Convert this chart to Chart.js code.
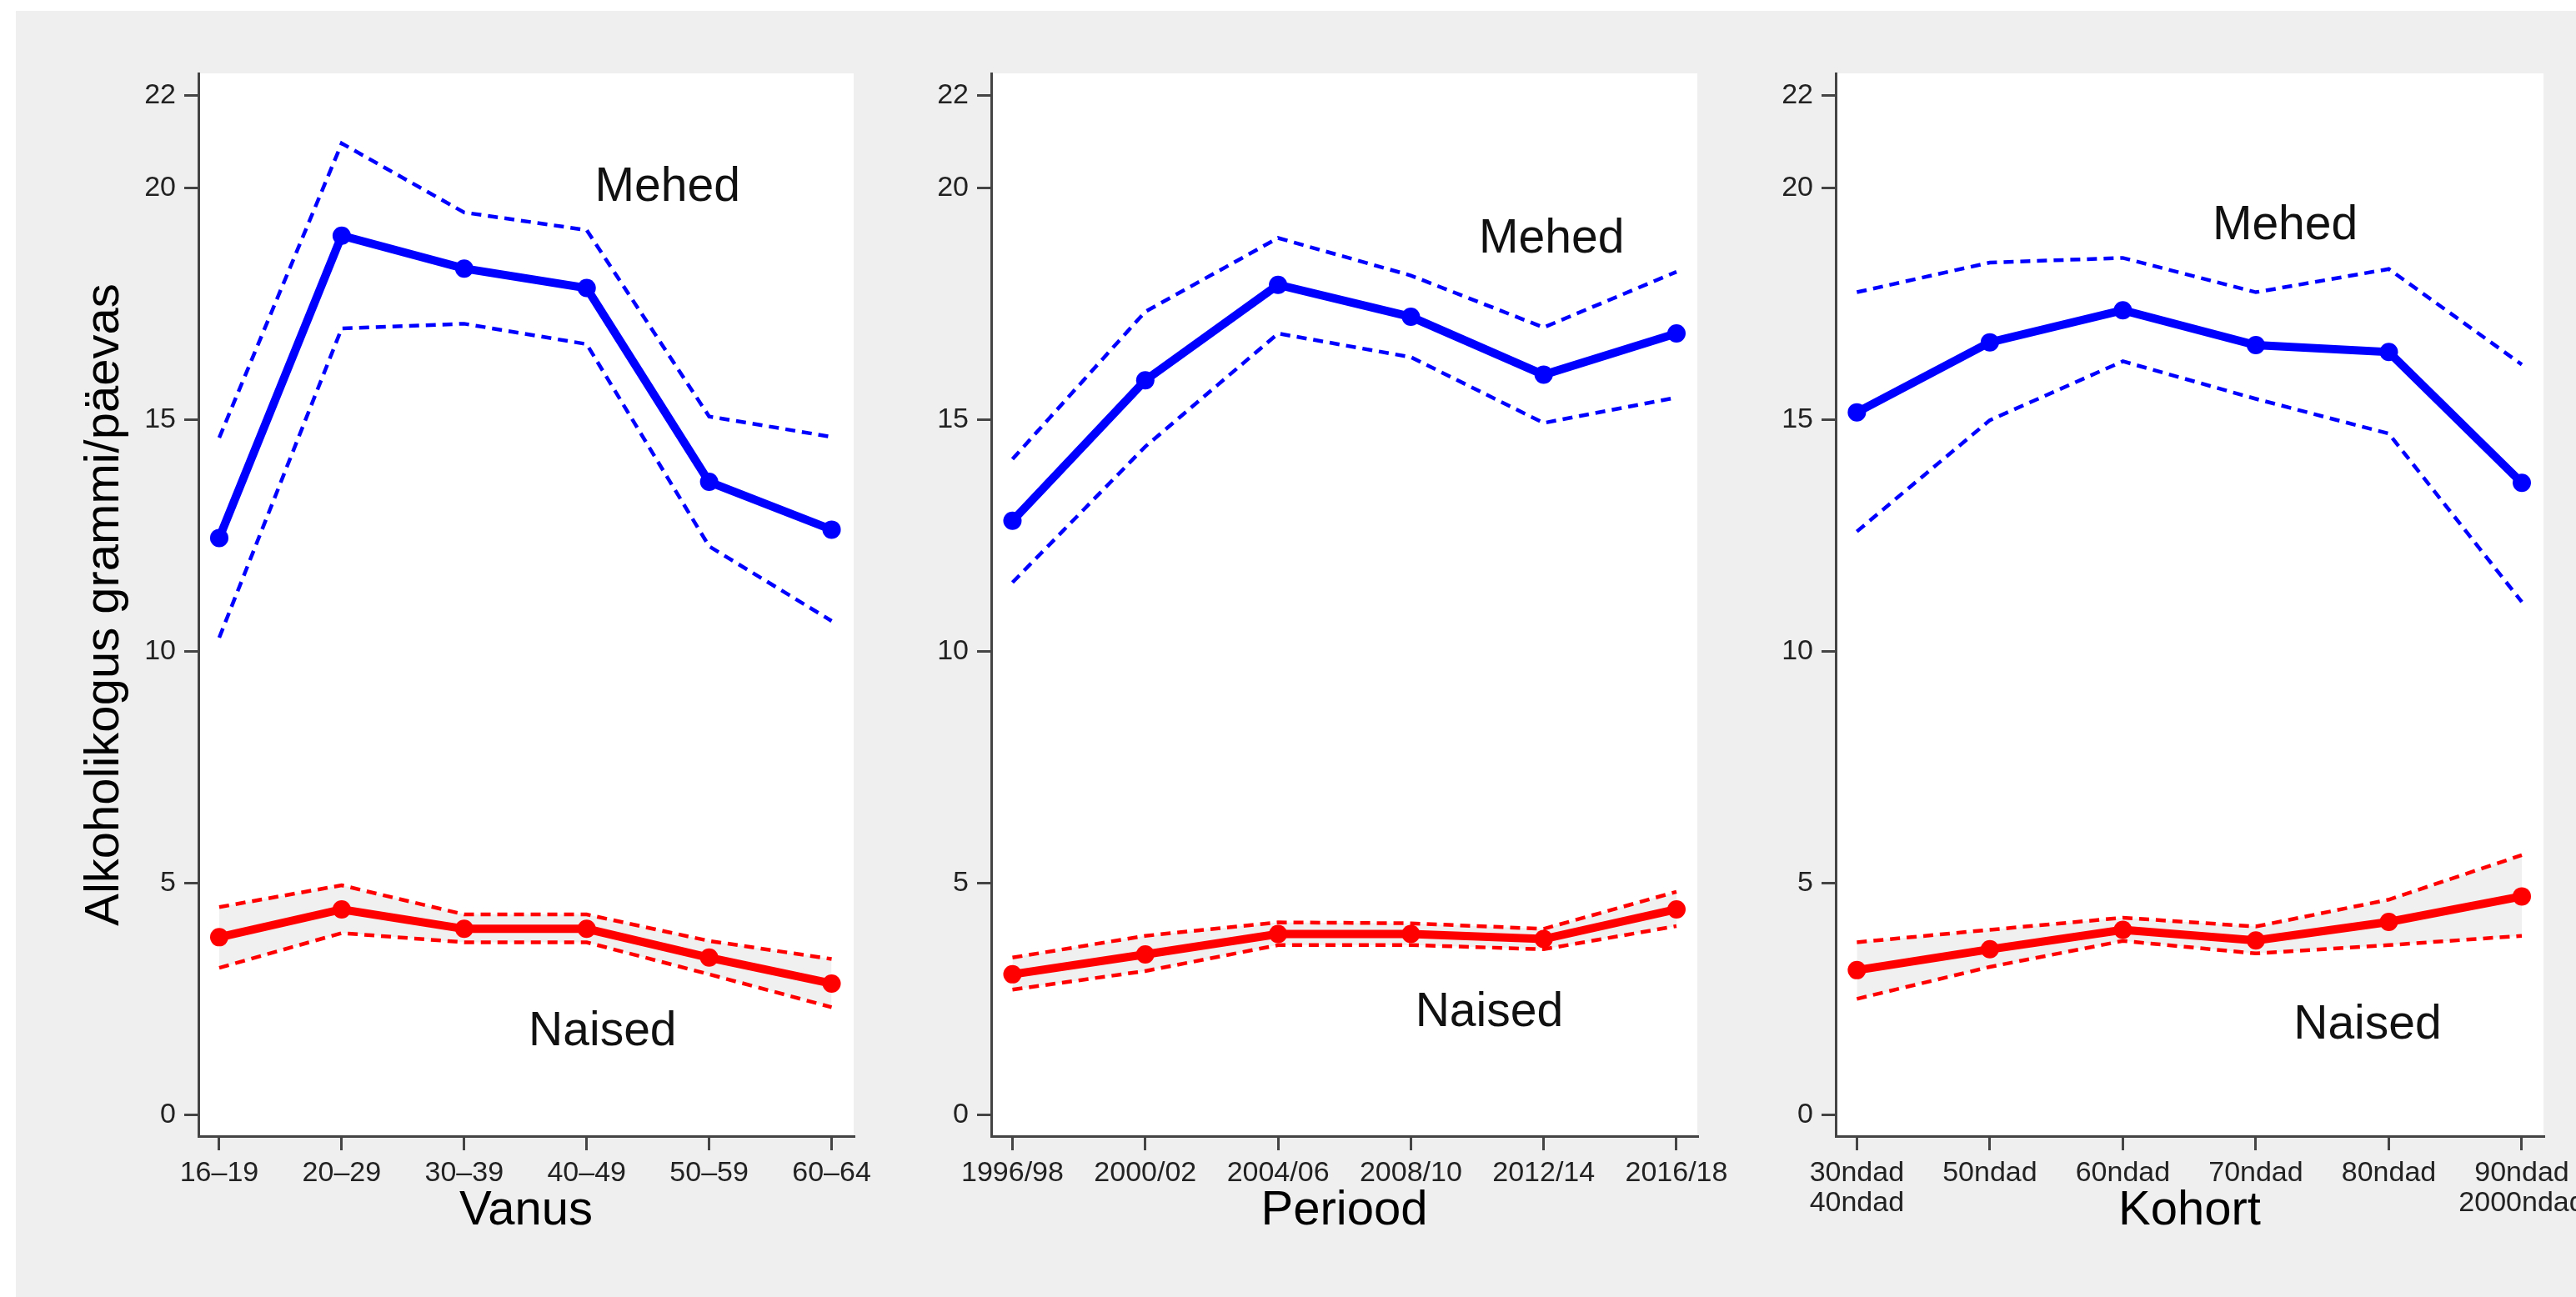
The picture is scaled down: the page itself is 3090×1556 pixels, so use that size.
<!DOCTYPE html>
<html>
<head>
<meta charset="utf-8">
<script src="https://cdn.jsdelivr.net/npm/chart.js@4.4.1/dist/chart.umd.min.js"></script>
<style>
    html, body { margin: 0; padding: 0; background: #fff; }
    body { width: 3090px; height: 1556px; position: relative; overflow: hidden; }
    #frame { position: absolute; left: 19px; top: 13px; width: 3071px; height: 1543px; background: #efefef; }
    canvas { position: absolute; top: 13px; }
</style>
</head>
<body>
<div id="frame"></div>
<canvas id="ageChart" width="1081" height="1543" style="left:19px"></canvas>
<canvas id="periodChart" width="1000" height="1543" style="left:1100px"></canvas>
<canvas id="cohortChart" width="990" height="1543" style="left:2100px"></canvas>

<script>
// Categories
const ageLabels = ['16–19', '20–29', '30–39', '40–49', '50–59', '60–64'];
const periodLabels = ['1996/98', '2000/02', '2004/06', '2008/10', '2012/14', '2016/18'];
const cohortLabels = [['30ndad', '40ndad'], '50ndad', '60ndad', '70ndad', '80ndad', ['90ndad', '2000ndad']];
const yTicks = [0, 5, 10, 15, 20, 22];

// Vanus
const ageMen = [12.45, 18.97, 18.26, 17.84, 13.66, 12.63];
const ageMenHi = [14.61, 20.96, 19.47, 19.09, 15.07, 14.63];
const ageMenLo = [10.30, 16.97, 17.07, 16.63, 12.27, 10.66];
const ageWomen = [3.84, 4.44, 4.02, 4.02, 3.40, 2.84];
const ageWomenHi = [4.49, 4.96, 4.33, 4.33, 3.76, 3.37];
const ageWomenLo = [3.18, 3.93, 3.73, 3.73, 3.04, 2.33];

// Periood
const periodMen = [12.82, 15.85, 17.91, 17.22, 15.97, 16.86];
const periodMenHi = [14.15, 17.33, 18.92, 18.11, 16.99, 18.19];
const periodMenLo = [11.49, 14.42, 16.86, 16.35, 14.93, 15.48];
const periodWomen = [3.04, 3.47, 3.91, 3.91, 3.80, 4.44];
const periodWomenHi = [3.40, 3.87, 4.16, 4.14, 4.02, 4.82];
const periodWomenLo = [2.71, 3.11, 3.67, 3.67, 3.58, 4.08];

// Kohort
const cohortMen = [15.16, 16.67, 17.36, 16.61, 16.46, 13.64];
const cohortMenHi = [17.75, 18.39, 18.49, 17.75, 18.25, 16.19];
const cohortMenLo = [12.59, 14.99, 16.26, 15.45, 14.70, 11.07];
const cohortWomen = [3.13, 3.58, 4.00, 3.77, 4.17, 4.72];
const cohortWomenHi = [3.73, 4.00, 4.26, 4.07, 4.65, 5.61];
const cohortWomenLo = [2.51, 3.20, 3.76, 3.49, 3.67, 3.87];

const FONT = "'Liberation Sans', Arial, Helvetica, sans-serif";
const BLUE = '#0000ff';
const RED = '#ff0000';

function toPoints(values) {
    return values.map((v, i) => ({ x: i, y: v }));
}

// white plot area on the grey frame
const plotBackground = {
    id: 'plotBackground',
    beforeDraw(chart) {
        const a = chart.chartArea;
        chart.ctx.save();
        chart.ctx.fillStyle = '#ffffff';
        chart.ctx.fillRect(a.left, a.top, a.right - a.left, a.bottom - a.top);
        chart.ctx.restore();
    }
};

// "Mehed" / "Naised" text, placed in data coordinates
const groupLabels = {
    id: 'groupLabels',
    afterDatasetsDraw(chart, args, opts) {
        const ctx = chart.ctx;
        ctx.save();
        ctx.font = '57px ' + FONT;
        ctx.fillStyle = '#111';
        ctx.textAlign = 'center';
        ctx.textBaseline = 'middle';
        opts.items.forEach(item => {
            ctx.fillText(item.text,
                chart.scales.x.getPixelForValue(item.x),
                chart.scales.y.getPixelForValue(item.y));
        });
        ctx.restore();
    }
};

function makePanel(id, cats, men, menHi, menLo, women, womenHi, womenLo, cfg) {
    const dashed = (data, color) => ({
        data: toPoints(data),
        borderColor: color,
        borderWidth: 4.5,
        borderDash: [12, 8],
        pointRadius: 0,
        fill: false
    });
    const solid = (data, color) => ({
        data: toPoints(data),
        borderColor: color,
        backgroundColor: color,
        borderWidth: 10,
        pointRadius: 11,
        pointBorderWidth: 0,
        pointBackgroundColor: color,
        fill: false
    });

    // grey band between the women's confidence limits
    const womenBand = dashed(womenHi, RED);
    womenBand.fill = { target: 4 };
    womenBand.backgroundColor = '#f0f0f0';

    return new Chart(document.getElementById(id), {
        type: 'line',
        data: {
            datasets: [
                solid(men, BLUE),
                solid(women, RED),
                dashed(menHi, BLUE),
                dashed(menLo, BLUE),
                dashed(womenLo, RED),
                womenBand
            ]
        },
        options: {
            responsive: false,
            animation: false,
            events: [],
            layout: { padding: { left: 0, right: cfg.padRight, top: 75, bottom: 68 } },
            elements: { line: { tension: 0 } },
            plugins: {
                legend: { display: false },
                tooltip: { enabled: false },
                groupLabels: { items: cfg.labels }
            },
            scales: {
                x: {
                    type: 'linear',
                    min: cfg.xMin,
                    max: cfg.xMax,
                    afterBuildTicks: scale => { scale.ticks = cats.map((c, i) => ({ value: i })); },
                    afterFit: scale => { scale.height = 125; scale.paddingLeft = 0; scale.paddingRight = 0; },
                    ticks: {
                        autoSkip: false,
                        maxRotation: 0,
                        padding: 9,
                        color: '#222',
                        font: { family: FONT, size: 34, lineHeight: 1.08 },
                        callback: value => cats[value]
                    },
                    grid: { display: true, drawOnChartArea: false, drawTicks: true, tickLength: 17, color: '#444', lineWidth: 3 },
                    border: { display: true, color: '#444', width: 3 },
                    title: {
                        display: true,
                        text: cfg.title,
                        color: '#000',
                        padding: 0,
                        font: { family: FONT, size: 58, lineHeight: 1.2 }
                    }
                },
                y: {
                    min: -0.45,
                    max: 22.47,
                    afterBuildTicks: scale => { scale.ticks = yTicks.map(v => ({ value: v })); },
                    afterFit: scale => { scale.width = cfg.yWidth; },
                    ticks: {
                        padding: 10,
                        color: '#222',
                        font: { family: FONT, size: 34 }
                    },
                    grid: { display: true, drawOnChartArea: false, drawTicks: true, tickLength: 17, color: '#444', lineWidth: 3 },
                    border: { display: true, color: '#444', width: 3 },
                    title: {
                        display: !!cfg.yTitle,
                        text: cfg.yTitle || '',
                        color: '#000',
                        padding: { top: 72, bottom: 0 },
                        font: { family: FONT, size: 58, lineHeight: 1.2 }
                    }
                }
            }
        },
        plugins: [plotBackground, groupLabels]
    });
}

makePanel('ageChart', ageLabels, ageMen, ageMenHi, ageMenLo, ageWomen, ageWomenHi, ageWomenLo, {
    title: 'Vanus',
    yTitle: 'Alkoholikogus grammi/päevas',
    yWidth: 219,
    padRight: 76,
    xMin: -0.17,
    xMax: 5.18,
    labels: [{ text: 'Mehed', x: 3.66, y: 20.0 }, { text: 'Naised', x: 3.13, y: 1.8 }]
});

makePanel('periodChart', periodLabels, periodMen, periodMenHi, periodMenLo, periodWomen, periodWomenHi, periodWomenLo, {
    title: 'Periood',
    yWidth: 89,
    padRight: 64,
    xMin: -0.16,
    xMax: 5.157,
    labels: [{ text: 'Mehed', x: 4.06, y: 18.89 }, { text: 'Naised', x: 3.59, y: 2.2 }]
});

makePanel('cohortChart', cohortLabels, cohortMen, cohortMenHi, cohortMenLo, cohortWomen, cohortWomenHi, cohortWomenLo, {
    title: 'Kohort',
    yWidth: 102,
    padRight: 39,
    xMin: -0.159,
    xMax: 5.163,
    labels: [{ text: 'Mehed', x: 3.22, y: 19.17 }, { text: 'Naised', x: 3.84, y: 1.93 }]
});
</script>
</body>
</html>
